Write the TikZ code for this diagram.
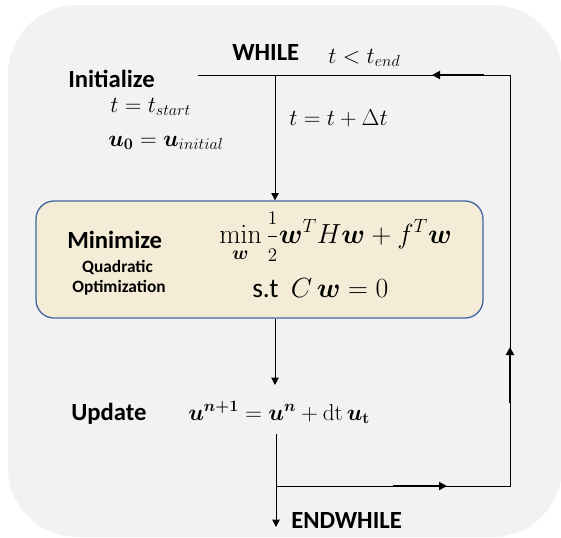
\documentclass[tikz,border=0pt]{standalone}
\usepackage{amsmath}
\usepackage[no-math]{fontspec}
\setmainfont{Carlito}
\usetikzlibrary{arrows.meta}

\definecolor{panelgray}{RGB}{242,242,242}
\definecolor{boxfill}{RGB}{244,236,215}
\definecolor{boxline}{RGB}{65,105,160}

\tikzset{
  flow/.style={line width=0.75pt},
  tipd/.style={-{Triangle[length=5.5pt,width=5.5pt]}},
  midtip/.style={line width=1.5pt,-{Triangle[length=6pt,width=6pt]}},
  head/.style={font=\fontsize{18.5}{22}\selectfont\bfseries,inner sep=0pt,anchor=base west},
  small/.style={font=\fontsize{13}{15}\selectfont\bfseries,inner sep=0pt,anchor=base},
  eq/.style={font=\fontsize{17}{20}\selectfont,inner sep=0pt,anchor=base west},
  bigeq/.style={eq,font=\fontsize{20.5}{24}\selectfont},
  qpbox/.style={draw=boxline,fill=boxfill,line width=1pt,rounded corners=13.5pt,
    minimum width=335.25pt,minimum height=87.75pt,inner sep=0pt},
}

\begin{document}
\begin{tikzpicture}[x=0.75pt,y=0.75pt,yscale=-1,xscale=1]
\useasboundingbox (0,0) rectangle (561,537);

% Background panel
\fill [panelgray, rounded corners=52pt] (8,5) rectangle (562,537);

% Loop corners
\coordinate (loopL) at (198,75);
\coordinate (split) at (275,75);
\coordinate (loopR) at (510,75);
\coordinate (loopB) at (510,486);
\coordinate (merge) at (276,486);
\coordinate (updin) at (275,385);
\coordinate (updout) at (276,434);
\coordinate (exit) at (276,527);

% Quadratic program box
\node [qpbox] (qp) at (259.5,259.5) {};

% Text Node
\node [head] (init) at (68,87) {Initialize};
\node [eq] (tstart) at (110,112) {$t = t_{start}$};
\node [eq] (uinit) at (108,146) {$\boldsymbol{u}_{\mathbf{0}} = \boldsymbol{u}_{initial}$};
\node [head] (while) at (232,60) {WHILE};
\node [eq] (cond) at (328,63) {$t < t_{end}$};
\node [eq] (incr) at (289,125) {$t = t + \Delta t$};
% Text Node
\node [head] (minim) at (67,248) {Minimize};
\node [small] (quad) at (117.5,272) {Quadratic};
\node [small] (optim) at (119,292) {Optimization};
\node [bigeq] (obj) at (219,243) {$\min\limits_{\boldsymbol{w}} {\displaystyle\frac{\scriptstyle 1}{\scriptstyle 2}}\boldsymbol{w}^T H \boldsymbol{w} + f^T \boldsymbol{w}$};
\node [bigeq] (cons) at (252,297) {s.t\ \ $C\,\boldsymbol{w} = 0$};
% Text Node
\node [head] (update) at (71,420) {Update};
\node [eq,font=\fontsize{18.5}{22}\selectfont] (upeq) at (188,420) {$\boldsymbol{u^{n+1}} = \boldsymbol{u^{n}} + \mathrm{dt}\,\boldsymbol{u}_{\mathbf{t}}$};
\node [head] (endw) at (291,528) {ENDWHILE};

% Straight Lines
\draw [flow] (loopL) -- (loopR) -- (loopB) -- (merge);
\draw [flow,tipd] (split) -- (split |- qp.north);
\draw [flow,tipd] (split |- qp.south) -- (updin);
\draw [flow,tipd] (updout) -- (exit);

% Arrows on the loop
\draw [midtip] (484,75) -- (432,75);
\draw [midtip] (510,403) -- (510,347);
\draw [midtip] (393,486) -- (447,486);

\end{tikzpicture}
\end{document}
